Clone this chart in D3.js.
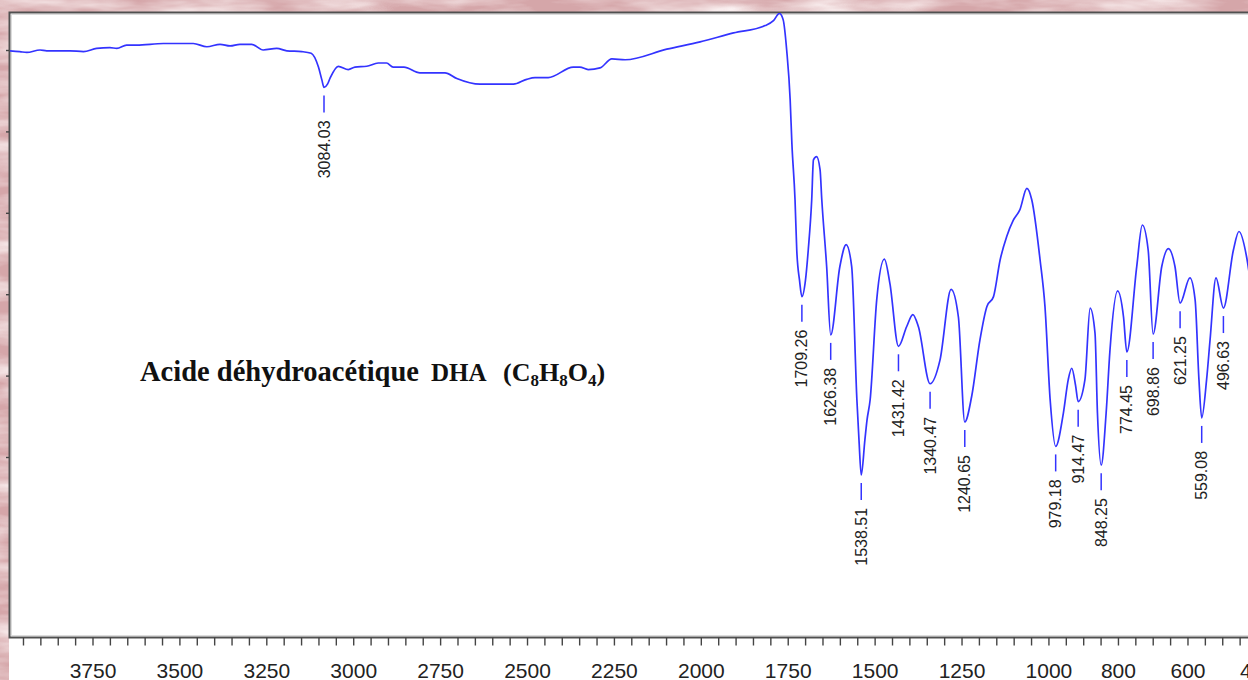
<!DOCTYPE html>
<html>
<head>
<meta charset="UTF-8">
<title>Spectre IR - DHA</title>
<script src="https://cdnjs.cloudflare.com/ajax/libs/d3/7.8.5/d3.min.js"></script>
<style>
  body { margin: 0; background: #fff; }
  svg { display: block; }
  .peak-label { font-family: "Liberation Sans", Arial, sans-serif; font-size: 16px; fill: #222; }
  .x-axis text { font-family: "Liberation Sans", Arial, sans-serif; font-size: 21px; fill: #222; }
  .x-axis line, .y-axis line { stroke: #444; stroke-width: 1.4; }
  .title { font-family: "Liberation Serif", "Times New Roman", serif; font-weight: bold; fill: #111; }
</style>
</head>
<body>
<script>
// spectrum (cm-1, %T)
var wavenumbers = [3990,3959,3939,3901,3882,3815,3776,3738,3700,3680,
  3652,3623,3546,3460,3421,3383,3354,3326,3292,3259,
  3220,3191,3148,3121,3100,3090,3084.03,3074,3067,3043,
  3014,2995,2961,2928,2904,2885,2854,2808,2736,2702,
  2635,2539,2501,2477,2439,2367,2348,2324,2290,2256,
  2218,2098,2002,1906,1815,1791,1774,1763,1753,1743,
  1738,1729,1724,1716,1709.26,1699,1691,1681,1676,1667,
  1657,1652,1638,1626.38,1600,1582,1566,1551,1545,1538.51,
  1528,1522,1513,1494,1472,1456,1431.42,1408,1390,1374,
  1340.47,1312,1280,1259,1240.65,1221,1197,1177,1158,1139,
  1120,1101,1082,1062,1048,1024,1010,995,979.18,957,
  943,933,922,914.47,895,880,866,859,848.25,834,
  823,801,784,774.45,746,730,713,698.86,674,655,
  636,621.25,593,578,567,559.08,545,535,518,496.63,
  468,452,430,414];
var transmittance = [99.9,99.8,99.7,100.0,99.9,99.9,99.8,100.2,100.3,100.2,
  100.6,100.6,100.8,100.8,100.4,100.7,100.5,100.7,100.7,100.0,
  100.2,99.9,99.8,99.6,97.9,96.3,95.4,95.8,96.5,98.0,
  97.6,97.9,98.0,98.4,98.4,97.9,97.9,97.2,97.2,96.5,
  95.8,95.8,96.4,96.6,96.6,97.9,97.9,97.6,97.8,98.9,
  98.8,100.1,101.0,102.1,103.0,103.6,104.5,103.7,100.0,93.9,
  88.5,81.6,75.4,71.7,69.7,71.7,75.4,81.6,86.5,86.9,
  85.3,81.6,73.4,65.0,73.4,76.1,73.4,57.0,52.1,47.8,
  52.1,54.5,57.0,69.3,74.3,71.3,63.6,66.0,67.5,66.0,
  59.0,61.9,70.6,67.2,54.3,57.4,64.4,68.5,69.7,74.2,
  77.1,79.1,80.4,83.0,81.6,74.2,68.5,57.0,51.3,55.4,
  59.5,60.9,58.8,56.8,59.5,68.3,65.2,55.4,49.0,55.4,
  63.1,70.4,67.2,62.9,73.4,78.5,75.4,65.1,73.4,75.6,
  73.4,68.9,72.0,69.3,59.5,54.8,59.5,64.4,72.0,68.3,
  75.4,77.7,74.6,69.9];

var peakWavenumbers = [3084.03,1709.26,1626.38,1538.51,1431.42,1340.47,1240.65,
  979.18,914.47,848.25,774.45,698.86,621.25,559.08,496.63];

var minorTicks = d3.range(3950, 399, -50);
var tickLabels = [3750,3500,3250,3000,2750,2500,2250,2000,1750,1500,1250,1000,800,600,400];
var yTicks = [100,90,80,70,60,50];

var width = 1248, height = 680;
var frame = {left: 9, top: 12, bottom: 637, right: 1300};

var x = d3.scaleLinear().domain([4000, 400]).range([5.6, 1257]);
var y = d3.scaleLinear().domain([100, 50]).range([50, 457]);

var svg = d3.select("body").append("svg")
    .attr("width", width)
    .attr("height", height);
var defs = svg.append("defs");

// pink marble border
var marble = defs.append("filter").attr("id", "marble")
    .attr("x", 0).attr("y", 0).attr("width", "100%").attr("height", "100%");
marble.append("feTurbulence").attr("type", "fractalNoise")
    .attr("baseFrequency", "0.01 0.05").attr("numOctaves", 4).attr("seed", 7).attr("result", "noise");
marble.append("feColorMatrix").attr("in", "noise").attr("type", "matrix")
    .attr("values", "0 0 0 0 1  0 0 0 0 0.95  0 0 0 0 0.95  1.8 0 0 0 -0.65").attr("result", "streaks");
marble.append("feComposite").attr("in", "streaks").attr("in2", "SourceGraphic").attr("operator", "in");

defs.append("clipPath").attr("id", "plotClip")
  .append("rect")
    .attr("x", frame.left + 1).attr("y", frame.top + 1)
    .attr("width", frame.right - frame.left).attr("height", frame.bottom - frame.top - 2);

var border = "M0,0H" + width + "V" + frame.top + "H" + frame.left + "V" + height + "H0Z";
svg.append("path").attr("d", border).attr("fill", "#d5a6a9");
svg.append("path").attr("d", border).attr("fill", "#d5a6a9").attr("filter", "url(#marble)");

// plot frame
svg.append("rect")
    .attr("x", frame.left + 0.5).attr("y", frame.top + 0.5)
    .attr("width", frame.right - frame.left).attr("height", frame.bottom - frame.top)
    .attr("fill", "#fff").attr("stroke", "#505050").attr("stroke-width", 2);
svg.append("rect")
    .attr("x", frame.left + 2.5).attr("y", frame.top + 2.5)
    .attr("width", frame.right - frame.left).attr("height", frame.bottom - frame.top - 4)
    .attr("fill", "none").attr("stroke", "#dcdcdc").attr("stroke-width", 1);

// axes
var xAxis = d3.axisBottom(x)
    .tickValues(minorTicks)
    .tickSize(8)
    .tickPadding(18)
    .tickFormat(function(d) { return tickLabels.indexOf(d) >= 0 ? d : ""; });
svg.append("g")
    .attr("class", "x-axis")
    .attr("transform", "translate(0," + (frame.bottom + 0.5) + ")")
    .call(xAxis)
    .call(function(g) { g.select(".domain").remove(); });

var yAxis = d3.axisLeft(y).tickValues(yTicks).tickSize(3).tickFormat("");
svg.append("g")
    .attr("class", "y-axis")
    .attr("transform", "translate(" + frame.left + ",0)")
    .call(yAxis)
    .call(function(g) { g.select(".domain").remove(); });

// spectrum
var spectrum = wavenumbers.map(function(w, i) { return [w, transmittance[i]]; });
var line = d3.line()
    .x(function(d) { return x(d[0]); })
    .y(function(d) { return y(d[1]); })
    .curve(d3.curveMonotoneX);

svg.append("path")
    .datum(spectrum)
    .attr("clip-path", "url(#plotClip)")
    .attr("d", line)
    .attr("fill", "none")
    .attr("stroke", "#3333ff")
    .attr("stroke-width", 1.7)
    .attr("stroke-linejoin", "round");

// peak markers
var peaks = peakWavenumbers.map(function(w) { return [w, transmittance[wavenumbers.indexOf(w)]]; });
var pk = svg.append("g").selectAll("g").data(peaks).enter().append("g");
pk.append("line")
    .attr("x1", function(d) { return x(d[0]); })
    .attr("x2", function(d) { return x(d[0]); })
    .attr("y1", function(d) { return y(d[1]) + 8; })
    .attr("y2", function(d) { return y(d[1]) + 25; })
    .attr("stroke", "#3333ff")
    .attr("stroke-width", 1.5);
pk.append("text")
    .attr("class", "peak-label")
    .attr("transform", function(d) { return "translate(" + x(d[0]) + "," + (y(d[1]) + 33) + ") rotate(-90)"; })
    .attr("text-anchor", "end")
    .attr("dy", "0.35em")
    .text(function(d) { return d[0].toFixed(2); });

// title
svg.append("text").attr("class", "title")
    .attr("x", 140).attr("y", 381)
    .style("font-size", "28.5px")
    .text("Acide déhydroacétique");
svg.append("text").attr("class", "title")
    .attr("x", 431).attr("y", 381)
    .style("font-size", "25px")
    .text("DHA");
var formula = svg.append("text").attr("class", "title")
    .attr("x", 503).attr("y", 381)
    .style("font-size", "26px");
formula.append("tspan").text("(C");
formula.append("tspan").attr("dy", 5).style("font-size", "17px").text("8");
formula.append("tspan").attr("dy", -5).text("H");
formula.append("tspan").attr("dy", 5).style("font-size", "17px").text("8");
formula.append("tspan").attr("dy", -5).text("O");
formula.append("tspan").attr("dy", 5).style("font-size", "17px").text("4");
formula.append("tspan").attr("dy", -5).text(")");
</script>
</body>
</html>
